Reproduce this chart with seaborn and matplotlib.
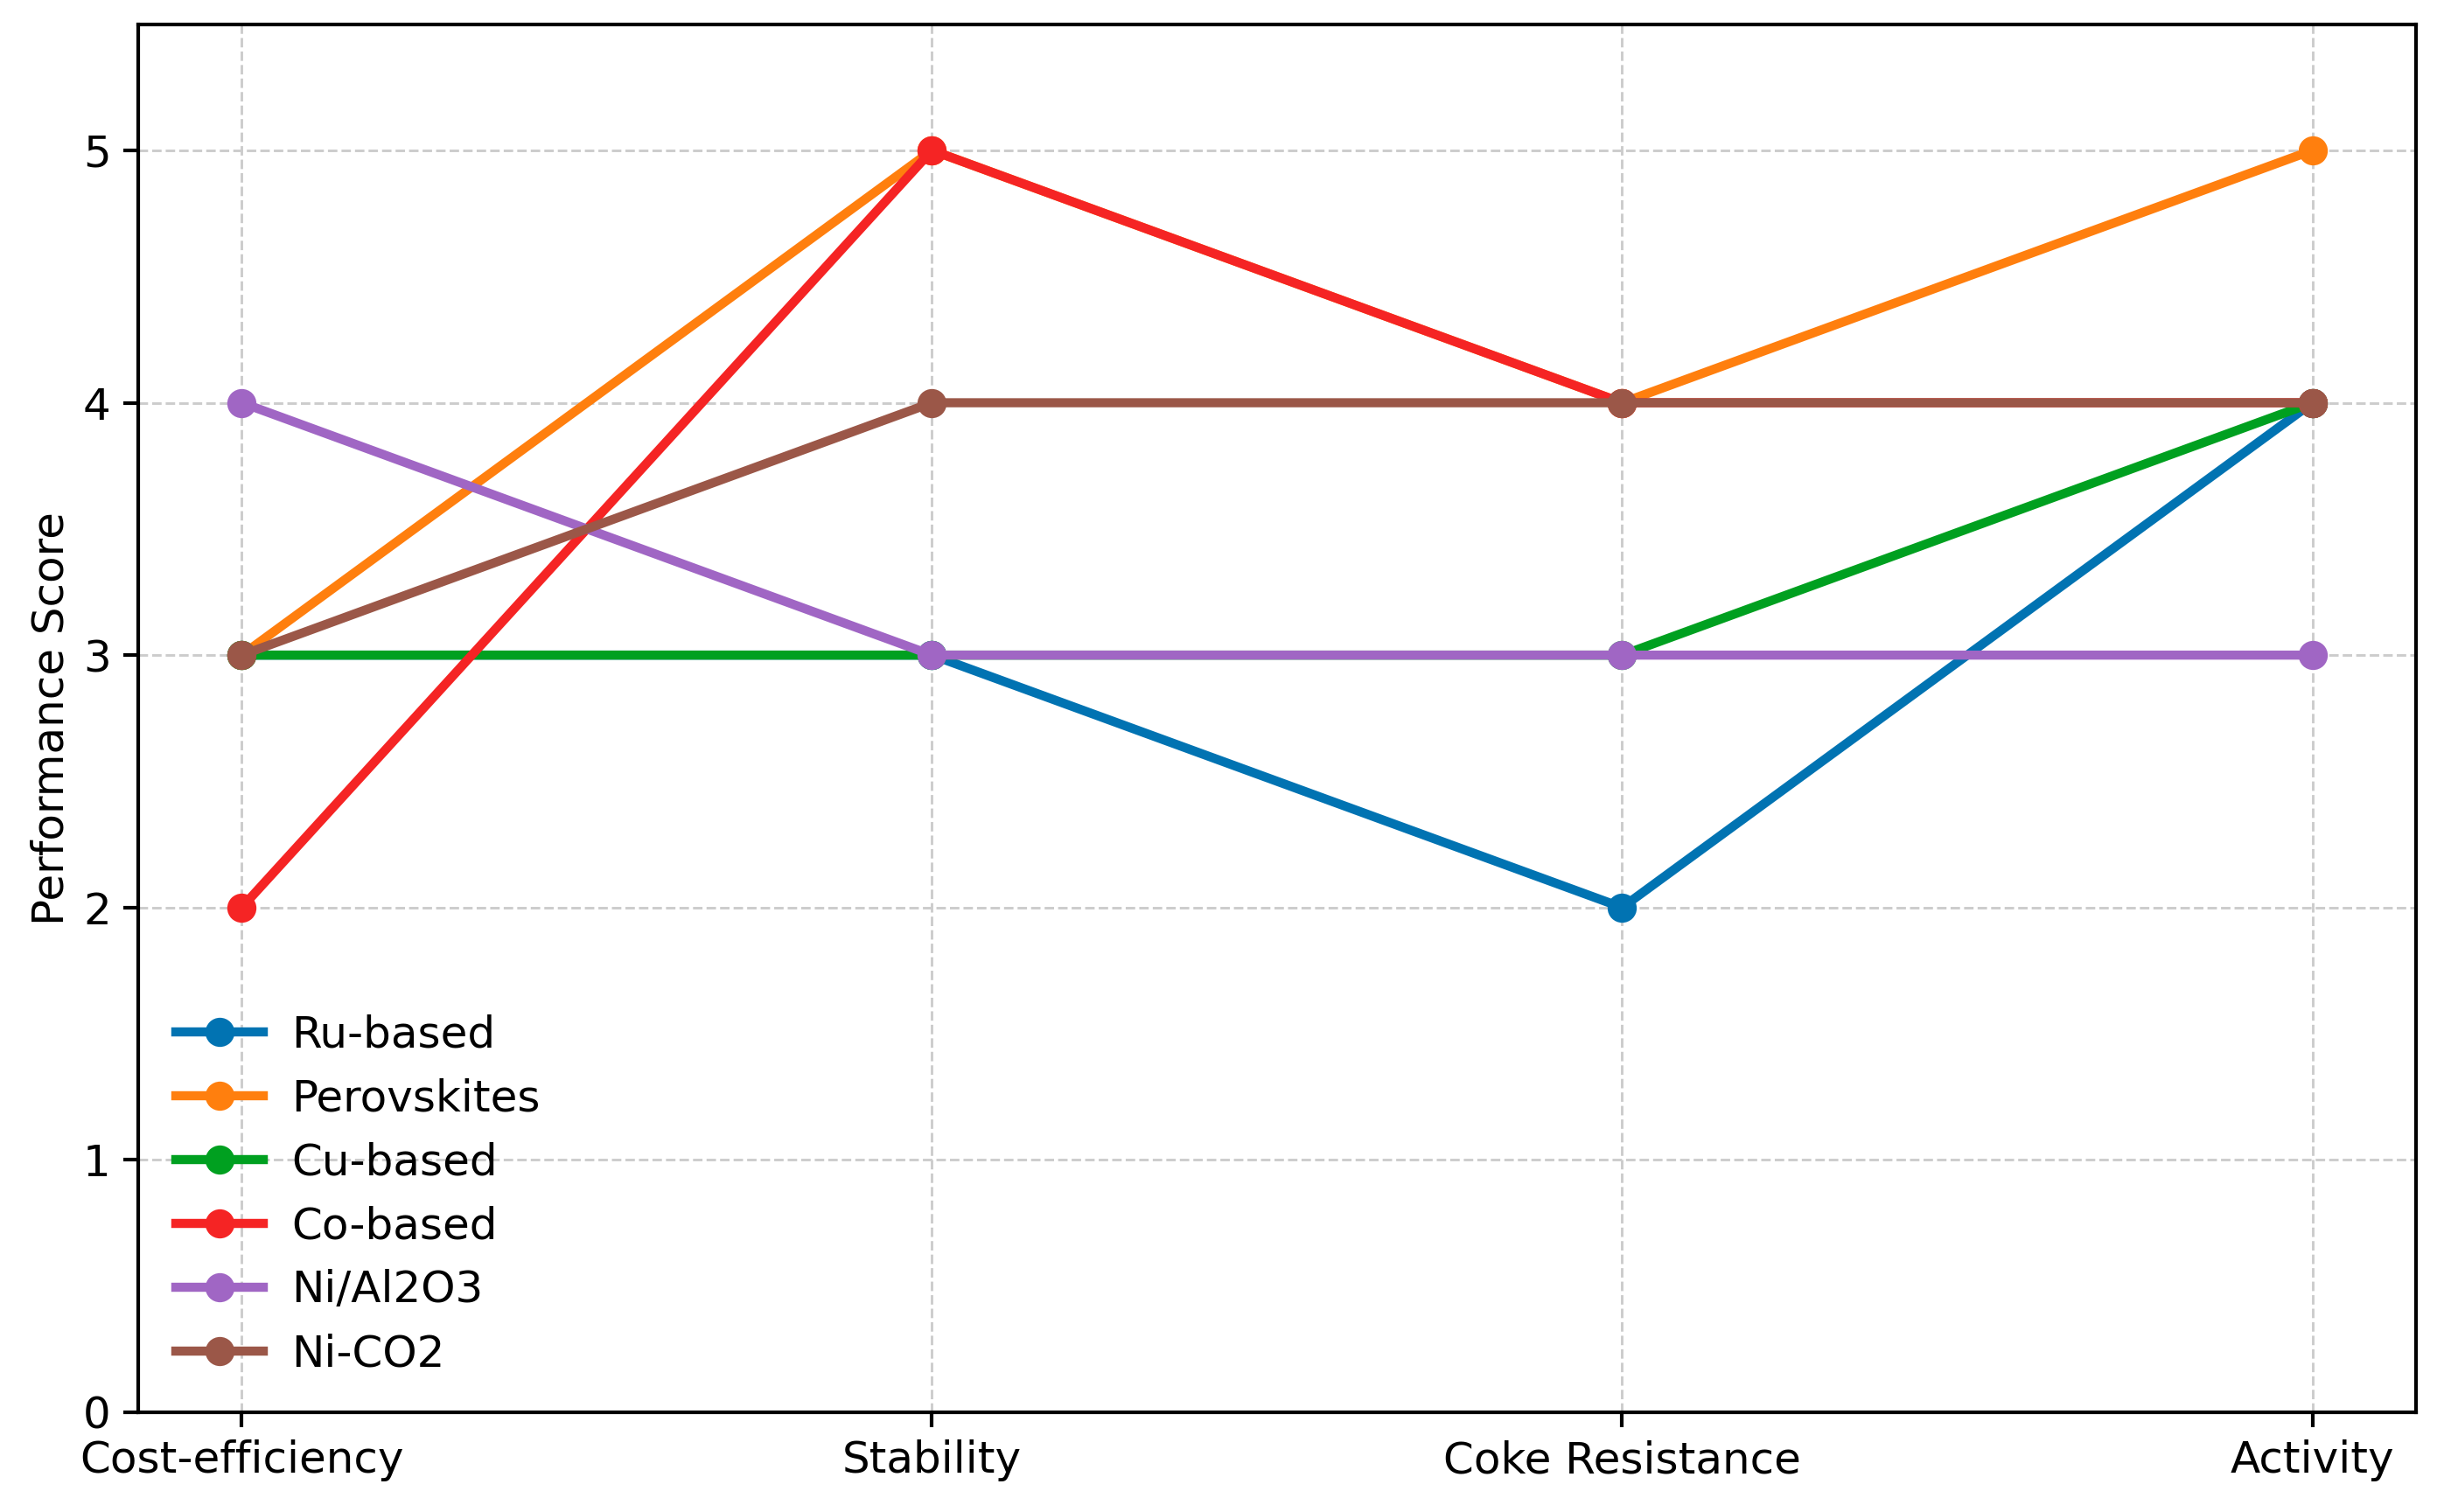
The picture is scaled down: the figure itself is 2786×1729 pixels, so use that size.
import numpy as np
import pandas as pd
import matplotlib
matplotlib.use("Agg")
import matplotlib.pyplot as plt
import seaborn as sns

# criterios evaluados
criteria = ['Cost-efficiency', 'Stability', 'Coke Resistance', 'Activity']

catalysts = ['Ru-based', 'Perovskites', 'Cu-based', 'Co-based', 'Ni/Al2O3', 'Ni-CO2']

ru_based = [3, 3, 2, 4]
perovskites = [3, 5, 4, 5]
cu_based = [3, 3, 3, 4]
co_based = [2, 5, 4, 4]
ni_al2o3 = [4, 3, 3, 3]
ni_co2 = [3, 4, 4, 4]

colors = ['#0173b2', '#ff7f0e', '#00a020', '#f52424', '#a066c4', '#9b5748']

scores = [ru_based, perovskites, cu_based, co_based, ni_al2o3, ni_co2]
rows = []
for name, vals in zip(catalysts, scores):
    for c, v in zip(criteria, vals):
        rows.append({'Criterion': c, 'Score': v, 'Catalyst': name})
df = pd.DataFrame(rows)

plt.rcParams['font.family'] = ['DejaVu Sans']

fig, ax = plt.subplots(figsize=(2787 / 300, 1729 / 300), dpi=300)
fig.subplots_adjust(left=0.0567, right=0.991, bottom=0.066, top=0.984)

sns.lineplot(
    data=df, x='Criterion', y='Score', hue='Catalyst',
    hue_order=catalysts, palette=colors, sort=False,
    marker='o', markersize=8, markeredgewidth=0, linewidth=2.5, ax=ax
)

ax.set_ylim(0, 5.5)
ax.set_xlim(-0.15, 3.15)
ax.set_yticks([0, 1, 2, 3, 4, 5])
ax.set_xlabel('')
ax.set_ylabel('Performance Score', fontsize=12, labelpad=3)
ax.tick_params(axis='both', labelsize=12, width=1.0, length=4)
ax.grid(True, linestyle='--', color='#cccccc', linewidth=0.7)
ax.set_axisbelow(True)
for s in ax.spines.values():
    s.set_linewidth(1.0)
    s.set_color('black')

ax.legend(loc='lower left', frameon=False, fontsize=12, labelspacing=0.5,
          handlelength=2.0, handletextpad=0.65, borderaxespad=0.45)

plt.savefig('out.png', dpi=300)
